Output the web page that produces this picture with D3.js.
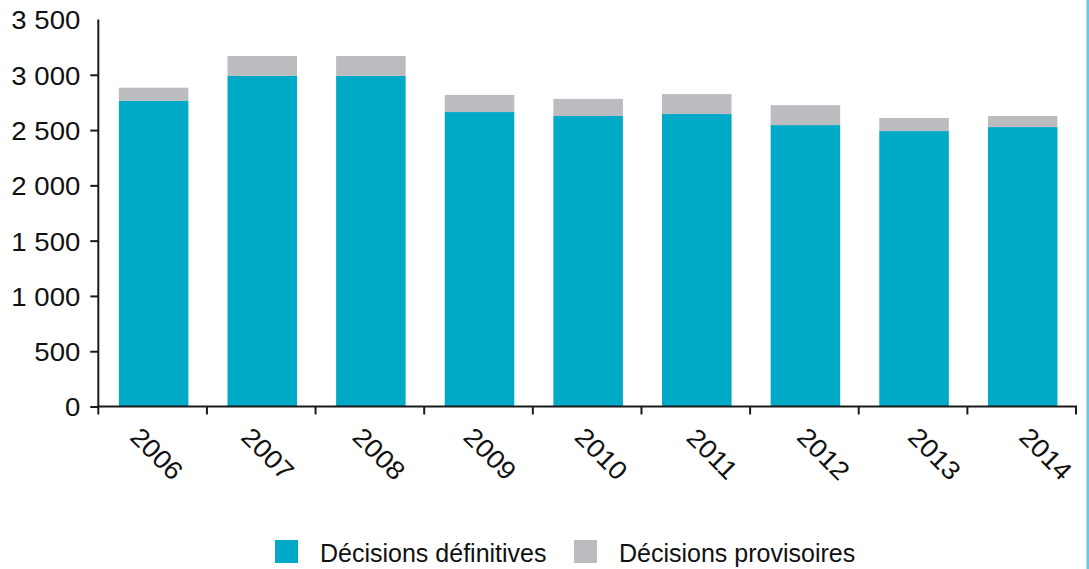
<!DOCTYPE html>
<html>
<head>
<meta charset="utf-8">
<script src="https://cdn.jsdelivr.net/npm/d3@7"></script>
<style>
  html, body { margin: 0; padding: 0; background: #fff; }
  svg { display: block; }
  text { font-family: "Liberation Sans", Arial, sans-serif; fill: #111; }
</style>
</head>
<body>
<svg id="chart" width="1089" height="569"></svg>
<script>
const years = ["2006","2007","2008","2009","2010","2011","2012","2013","2014"];
const definitives = [2763, 2990, 2990, 2663, 2627, 2645, 2545, 2491, 2527];
const provisoires = [120, 180, 180, 155, 155, 180, 180, 118, 100];
const yTicks = [0, 500, 1000, 1500, 2000, 2500, 3000, 3500];
const seriesNames = ["Décisions définitives", "Décisions provisoires"];
const colors = ["#00a9c5", "#bbbcc0"];

const svg = d3.select("#chart");
const plotLeft = 98.3, plotRight = 1076, plotTop = 19.5, plotBottom = 406.5;

const x = d3.scaleBand().domain(years).range([plotLeft, plotRight]).paddingInner(0.36).paddingOuter(0.18);
const y = d3.scaleLinear().domain([0, 3500]).range([plotBottom, plotTop]);
// rotated year labels sit on a slightly wider spread than the bands
const xLabel = d3.scalePoint().domain(years).range([157, 1046]);

// right border
svg.append("rect").attr("x", 1086.5).attr("y", 0).attr("width", 2.5).attr("height", 569).attr("fill", "#6cc6e0");

// bars
const rows = years.map((yr, i) => ({ year: yr, d: definitives[i], p: provisoires[i] }));
const g = svg.append("g");
g.selectAll("rect.def").data(rows).join("rect")
  .attr("class", "def")
  .attr("x", d => x(d.year) + 1)
  .attr("width", x.bandwidth())
  .attr("y", d => y(d.d))
  .attr("height", d => y(0) - y(d.d))
  .attr("fill", colors[0]);
g.selectAll("rect.prov").data(rows).join("rect")
  .attr("class", "prov")
  .attr("x", d => x(d.year) + 1)
  .attr("width", x.bandwidth())
  .attr("y", d => y(d.d + d.p))
  .attr("height", d => y(d.d) - y(d.d + d.p))
  .attr("fill", colors[1]);

// y axis
const fmt = v => d3.format(",")(v).replace(/,/g, "\u00a0");
const yAxis = svg.append("g").attr("transform", `translate(${plotLeft},0)`)
  .call(d3.axisLeft(y).tickValues(yTicks).tickFormat(fmt).tickSize(8).tickSizeOuter(0));
yAxis.select(".domain").attr("stroke", "#1a1a1a").attr("stroke-width", 2)
  .attr("d", `M0,${plotTop}V${plotBottom}`);
yAxis.selectAll(".tick line").attr("stroke", "#1a1a1a").attr("stroke-width", 2)
  .attr("opacity", d => d === 3500 ? 0 : 1);
yAxis.selectAll(".tick text")
  .attr("x", null).attr("dy", "0.36em")
  .attr("transform", "translate(-18,0) scale(1.06,1)")
  .style("font-size", "26px")
  .style("font-family", "'Liberation Sans', Arial, sans-serif")
  .attr("fill", "#111");

// x axis
const xg = svg.append("g");
xg.append("line").attr("x1", plotLeft - 1).attr("x2", plotRight + 1).attr("y1", plotBottom).attr("y2", plotBottom)
  .attr("stroke", "#1a1a1a").attr("stroke-width", 2);
const bounds = years.map(yr => x(yr) - (x.step() - x.bandwidth()) / 2).concat([plotRight]);
xg.selectAll("line.tk").data(bounds).join("line")
  .attr("class", "tk")
  .attr("x1", d => d).attr("x2", d => d)
  .attr("y1", plotBottom).attr("y2", plotBottom + 8)
  .attr("stroke", "#1a1a1a").attr("stroke-width", 2);
xg.selectAll("text").data(years).join("text")
  .attr("transform", d => `translate(${xLabel(d)},${plotBottom + 47}) rotate(45) scale(1.06,1)`)
  .attr("text-anchor", "middle")
  .attr("dy", "0.36em")
  .style("font-size", "26px")
  .text(d => d);

// legend
const legendX = [275, 574];
const lg = svg.append("g");
seriesNames.forEach((name, i) => {
  lg.append("rect").attr("x", legendX[i]).attr("y", 540).attr("width", 23).attr("height", 23).attr("fill", colors[i]);
  lg.append("text").attr("x", legendX[i] + 45).attr("y", 562).style("font-size", "25px").text(name);
});
</script>
</body>
</html>
